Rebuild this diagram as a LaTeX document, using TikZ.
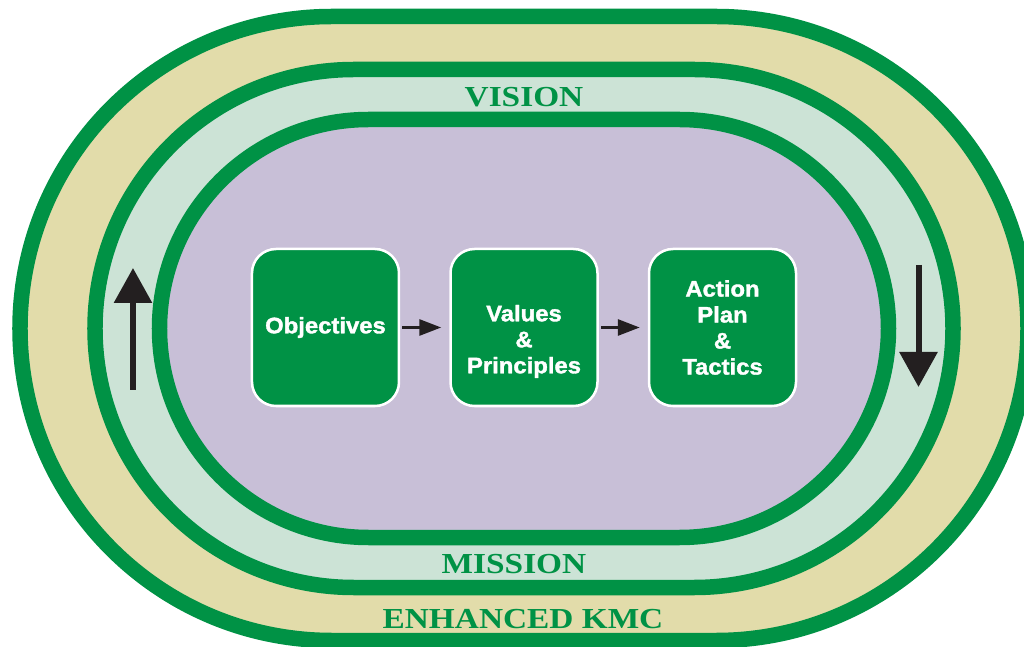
\documentclass[tikz,border=0pt]{standalone}
\usepackage{fontspec}
\usepackage{tikz}
\usetikzlibrary{shapes.misc,arrows.meta,positioning}
\newfontfamily\ringfont{Liberation Serif}[FakeStretch=1.15]
\newfontfamily\boxfont{Liberation Sans}[FakeStretch=1.06, BoldFeatures={FakeBold=1.6}]
\definecolor{kmcgreen}{RGB}{0,146,69}
\definecolor{kmctan}{RGB}{226,220,170}
\definecolor{kmcmint}{RGB}{204,227,214}
\definecolor{kmclilac}{RGB}{200,191,215}
\definecolor{kmcarrow}{RGB}{35,31,32}

\begin{document}
\begin{tikzpicture}[x=1pt,y=1pt,
  track/.style={rounded rectangle, draw=kmcgreen, line width=15.5pt, inner sep=0pt},
  ringlabel/.style={text=kmcgreen, inner sep=0pt, font=\ringfont\bfseries\fontsize{29}{34}\selectfont},
  planbox/.style={draw=white, line width=2.5pt, fill=kmcgreen, rounded corners=24pt,
    minimum width=147pt, minimum height=157pt, text=white, align=center,
    font=\boxfont\bfseries\fontsize{22.5}{26}\selectfont},
  flow/.style={draw=kmcarrow, line width=3pt, -{Triangle[length=22pt,width=16pt]},
    shorten <=2pt, shorten >=8pt},
  turn/.style={draw=kmcarrow, line width=6pt, -{Triangle[length=35pt,width=37pt]}}]
 \useasboundingbox (-524,-318.5) rectangle (500,328.5);

 %rings
 \node[track, fill=kmctan, minimum width=1008pt, minimum height=624pt] (kmcring) at (0,0) {};
 \node[track, fill=kmcmint, minimum width=858pt, minimum height=518pt] (missionring) at (0,0) {};
 \node[track, fill=kmclilac, minimum width=729pt, minimum height=418pt] (visionring) at (0,0) {};

 \node[ringlabel] (vision) at (0,231.5) {VISION};
 \node[ringlabel] (mission) at (-10,-235.2) {MISSION};
 \node[ringlabel] (kmc) at (-1,-290.8) {ENHANCED KMC};

 %boxes
 \node[planbox] (values) at (0,1) {\strut\\Values\\\&\\Principles};
 \node[planbox, left=49pt of values] (objectives) {Objectives};
 \node[planbox, right=49pt of values] (action) {Action\\Plan\\\&\\Tactics};
 \draw[flow] (objectives) -- (values);
 \draw[flow] (values) -- (action);

 %up and down
 \coordinate (upfoot) at (-391,-61.5);
 \coordinate (uphead) at (-391,60.5);
 \coordinate (downfoot) at (394.5,63.5);
 \coordinate (downhead) at (394.5,-58.5);
 \draw[turn] (upfoot) -- (uphead);
 \draw[turn] (downfoot) -- (downhead);
\end{tikzpicture}
\end{document}
